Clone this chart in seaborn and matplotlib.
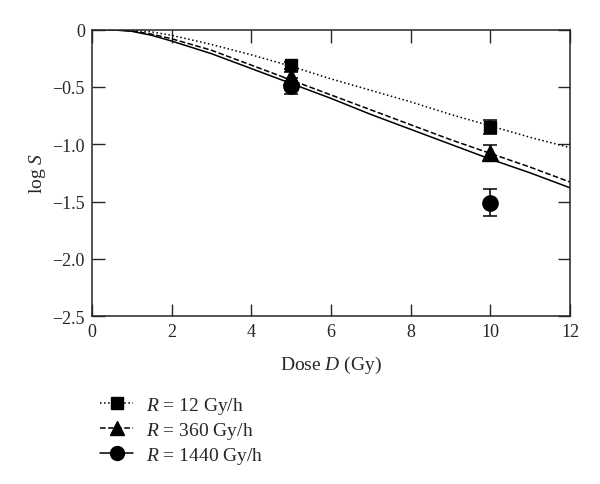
import numpy as np
import pandas as pd
import seaborn as sns
import matplotlib.pyplot as plt
from matplotlib.lines import Line2D
from matplotlib.ticker import FuncFormatter

# --- model curves ---
dose_curve = [0, 0.5, 1, 1.5, 2, 3, 4, 5, 6, 7, 8, 9, 10, 11, 12]
logS_12 = [0, -0.001, -0.006, -0.02, -0.05, -0.13, -0.22, -0.32, -0.43, -0.53, -0.63, -0.74, -0.84, -0.94, -1.03]
logS_360 = [0, -0.002, -0.012, -0.04, -0.08, -0.18, -0.31, -0.44, -0.57, -0.70, -0.83, -0.96, -1.08, -1.20, -1.33]
logS_1440 = [0, -0.002, -0.015, -0.05, -0.10, -0.21, -0.34, -0.47, -0.60, -0.74, -0.87, -1.00, -1.13, -1.25, -1.38]

# --- measured points ---
dose_pts = [5, 10]
pts_12 = [-0.31, -0.85]
err_12 = [0.03, 0.065]
pts_360 = [-0.41, -1.08]
err_360 = [0.04, 0.07]
pts_1440 = [-0.49, -1.51]
err_1440 = [0.07, 0.115]

labels = ["$R$ = 12 Gy/h", "$R$ = 360 Gy/h", "$R$ = 1440 Gy/h"]

sns.set_style("ticks")
plt.rcParams["font.family"] = ["Liberation Serif", "DejaVu Serif"]
plt.rcParams["mathtext.fontset"] = "custom"
plt.rcParams["mathtext.rm"] = "Liberation Serif"
plt.rcParams["mathtext.it"] = "Liberation Serif:italic"

fig = plt.figure(figsize=(6, 4.85), dpi=100)
ax = fig.add_axes([0.153, 0.346, 0.797, 0.591])

# (curve, points, errors, linestyle, marker, marker size)
series = [
    (logS_12, pts_12, err_12, ":", "s", 9),
    (logS_360, pts_360, err_360, "--", "^", 11),
    (logS_1440, pts_1440, err_1440, "-", "o", 11),
]

handles = []
for curve, pts, err, ls, mk, ms in series:
    df = pd.DataFrame({"dose": dose_curve, "logS": curve})
    sns.lineplot(data=df, x="dose", y="logS", ax=ax, color="black",
                 linestyle=ls, linewidth=1.1)
    ax.errorbar(dose_pts, pts, yerr=err, fmt=mk, color="black", ms=ms,
                capsize=5, elinewidth=1.1, capthick=1.1, zorder=5)
    handles.append(Line2D([], [], color="black", linestyle=ls, marker=mk,
                          ms=ms - 1, linewidth=1.1))

ax.set_xlim(0, 12)
ax.set_ylim(-2.5, 0)
ax.set_xticks([0, 2, 4, 6, 8, 10, 12])
ax.set_yticks([0, -0.5, -1.0, -1.5, -2.0, -2.5])
ax.yaxis.set_major_formatter(FuncFormatter(
    lambda v, p: "0" if v == 0 else f"{v:.1f}".replace("-", "\u2212")))
ax.tick_params(direction="in", length=9, width=1, top=True, right=True,
               labelsize=13, pad=5)
for s in ax.spines.values():
    s.set_linewidth(1.1)

ax.set_xlabel("Dose $D$ (Gy)", fontsize=14, labelpad=10)
ax.set_ylabel("log $S$", fontsize=14, labelpad=3)

fig.legend(handles, labels, loc="upper left", bbox_to_anchor=(0.1375, 0.219),
           frameon=False, fontsize=14, handlelength=1.7, handletextpad=0.67,
           labelspacing=0.19)

fig.savefig("out.png", dpi=100)
